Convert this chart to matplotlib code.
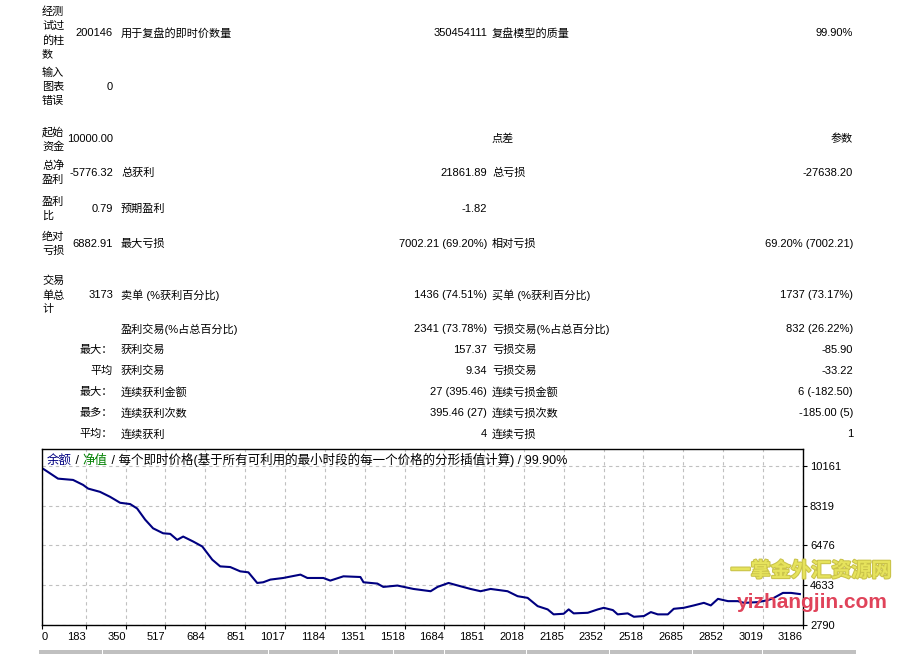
import numpy as np
import matplotlib
matplotlib.use("Agg")
import matplotlib.pyplot as plt
import matplotlib.patheffects as pe
from matplotlib.patches import Rectangle

plt.rcParams['font.family'] = ['Liberation Sans', 'Noto Sans CJK SC', 'DejaVu Sans']

# summary table (left label / value / middle label / value / right label / value)
row_labels = ["经测\n试过\n的柱\n数", "输入\n图表\n错误", "起始\n资金", "总净\n盈利", "盈利\n比",
              "绝对\n亏损", "交易\n单总\n计", "", "", "", "", "", ""]
row_values = ["200146", "0", "10000.00", "-5776.32", "0.79", "6882.91", "3173", "",
              "最大：", "平均", "最大：", "最多：", "平均："]
mid_labels = ["用于复盘的即时价数量", "", "", "总获利", "预期盈利", "最大亏损", "卖单 (%获利百分比)",
              "盈利交易(%占总百分比)", "获利交易", "获利交易", "连续获利金额", "连续获利次数", "连续获利"]
mid_values = ["350454111", "", "", "21861.89", "-1.82", "7002.21 (69.20%)", "1436 (74.51%)",
              "2341 (73.78%)", "157.37", "9.34", "27 (395.46)", "395.46 (27)", "4"]
right_labels = ["复盘模型的质量", "", "点差", "总亏损", "", "相对亏损", "买单 (%获利百分比)",
                "亏损交易(%占总百分比)", "亏损交易", "亏损交易", "连续亏损金额", "连续亏损次数", "连续亏损"]
right_values = ["99.90%", "", "参数", "-27638.20", "", "69.20% (7002.21)", "1737 (73.17%)",
                "832 (26.22%)", "-85.90", "-33.22", "6 (-182.50)", "-185.00 (5)", "1"]

# balance curve
trades = [0, 4, 25, 67, 130, 172, 193, 243, 285, 327, 369, 398, 432, 465, 507, 537, 566, 591,
          633, 671, 713, 746, 788, 830, 864, 901, 926, 956, 1010, 1082, 1111, 1178, 1207, 1262,
          1333, 1346, 1404, 1429, 1488, 1555, 1627, 1656, 1702, 1752, 1794, 1836, 1878, 1949,
          1991, 2033, 2075, 2117, 2142, 2184, 2205, 2226, 2285, 2327, 2352, 2390, 2410, 2452,
          2478, 2520, 2549, 2578, 2620, 2645, 2687, 2729, 2771, 2800, 2830, 2872, 2913, 2939,
          2997, 3039, 3064, 3102, 3136, 3173]
balance = [10000, 10037, 9885, 9576, 9516, 9286, 9115, 8963, 8733, 8457, 8397, 8194, 7673, 7273,
           7043, 7014, 6738, 6890, 6660, 6430, 5817, 5508, 5477, 5278, 5232, 4739, 4771, 4895,
           4970, 5126, 4970, 4970, 4849, 5047, 5015, 4771, 4711, 4556, 4619, 4462, 4356, 4556,
           4739, 4587, 4462, 4356, 4462, 4356, 4126, 4048, 3665, 3513, 3283, 3311, 3513, 3329,
           3357, 3513, 3587, 3481, 3283, 3329, 3172, 3205, 3389, 3283, 3283, 3541, 3587, 3698,
           3817, 3698, 4002, 3896, 3896, 3817, 3850, 3942, 4048, 4278, 4278, 4224]

x_ticks = [0, 183, 350, 517, 684, 851, 1017, 1184, 1351, 1518, 1684, 1851, 2018, 2185, 2352,
           2518, 2685, 2852, 3019, 3186]
y_ticks = [2790, 4633, 6476, 8319, 10161]

W, H = 908, 654
fig = plt.figure(figsize=(W / 100, H / 100), dpi=100)


def put(x, y, s, ha='left', **kw):
    """place text using pixel coords measured from the top-left corner"""
    if s:
        fig.text(x / W, 1 - y / H, s, ha=ha, va='center', fontsize=8, linespacing=1.45,
                 multialignment='left', **kw)


row_y = [33, 87, 139, 173, 209, 244, 295, 329, 350, 371, 392, 413, 434]
for i, y in enumerate(row_y):
    put(42, y, row_labels[i])
    put(113, y, row_values[i], ha='right')
    put(121, y, mid_labels[i])
    put(487, y, mid_values[i], ha='right')
    put(492, y, right_labels[i])
    put(853, y, right_values[i], ha='right')

# chart
ax = fig.add_axes([42 / W, 29 / H, 761 / W, 176 / H])
ax.plot(trades, balance, color='#000080', lw=1.5)
ax.set_xlim(0, 3186)
ax.set_ylim(2790, 10950)
ax.set_xticks(x_ticks)
ax.set_xticklabels([str(t) for t in x_ticks], fontsize=8)
for i, lab in enumerate(ax.get_xticklabels()):
    lab.set_ha('left' if i == 0 else 'right')
ax.set_yticks(y_ticks)
ax.set_yticklabels([str(t) for t in y_ticks], fontsize=8)
ax.yaxis.tick_right()
ax.tick_params(axis='both', length=3, width=0.8, pad=2, colors='black')
ax.grid(True, color='#c0c0c0', ls=(0, (3, 3)), lw=0.8)
for s in ax.spines.values():
    s.set_color('black')
    s.set_linewidth(1)

t1 = ax.text(5 / 761, 1 - 12 / 176, "余额", transform=ax.transAxes, fontsize=9,
             color='#000080', va='center')
t2 = ax.annotate(" / ", xy=(1, 0), xycoords=t1, va='bottom', fontsize=9, color='black')
t3 = ax.annotate("净值", xy=(1, 0), xycoords=t2, va='bottom', fontsize=9, color='#008000')
ax.annotate(" / 每个即时价格(基于所有可利用的最小时段的每一个价格的分形插值计算) / 99.90%",
            xy=(1, 0), xycoords=t3, va='bottom', fontsize=9, color='black')

# watermark
fig.text(811 / W, 1 - 571 / H, "一掌金外汇资源网", ha='center', va='center', fontsize=14.5,
         fontweight='bold', color='#e6e35c',
         path_effects=[pe.withStroke(linewidth=1.5, foreground='#c9c24a')])
fig.text(812 / W, 1 - 602 / H, "yizhangjin.com", ha='center', va='center', fontsize=15,
         fontweight='bold', color='#e0435a')

# header strip of the table below
edges = [39, 103, 269, 339, 394, 445, 527, 610, 693, 763, 857]
for a, b in zip(edges[:-1], edges[1:]):
    fig.patches.append(Rectangle((a / W, 0), (b - a - 1) / W, 4 / H, transform=fig.transFigure,
                                 color='#c0c0c0', lw=0))

fig.savefig("out.png", dpi=100)
